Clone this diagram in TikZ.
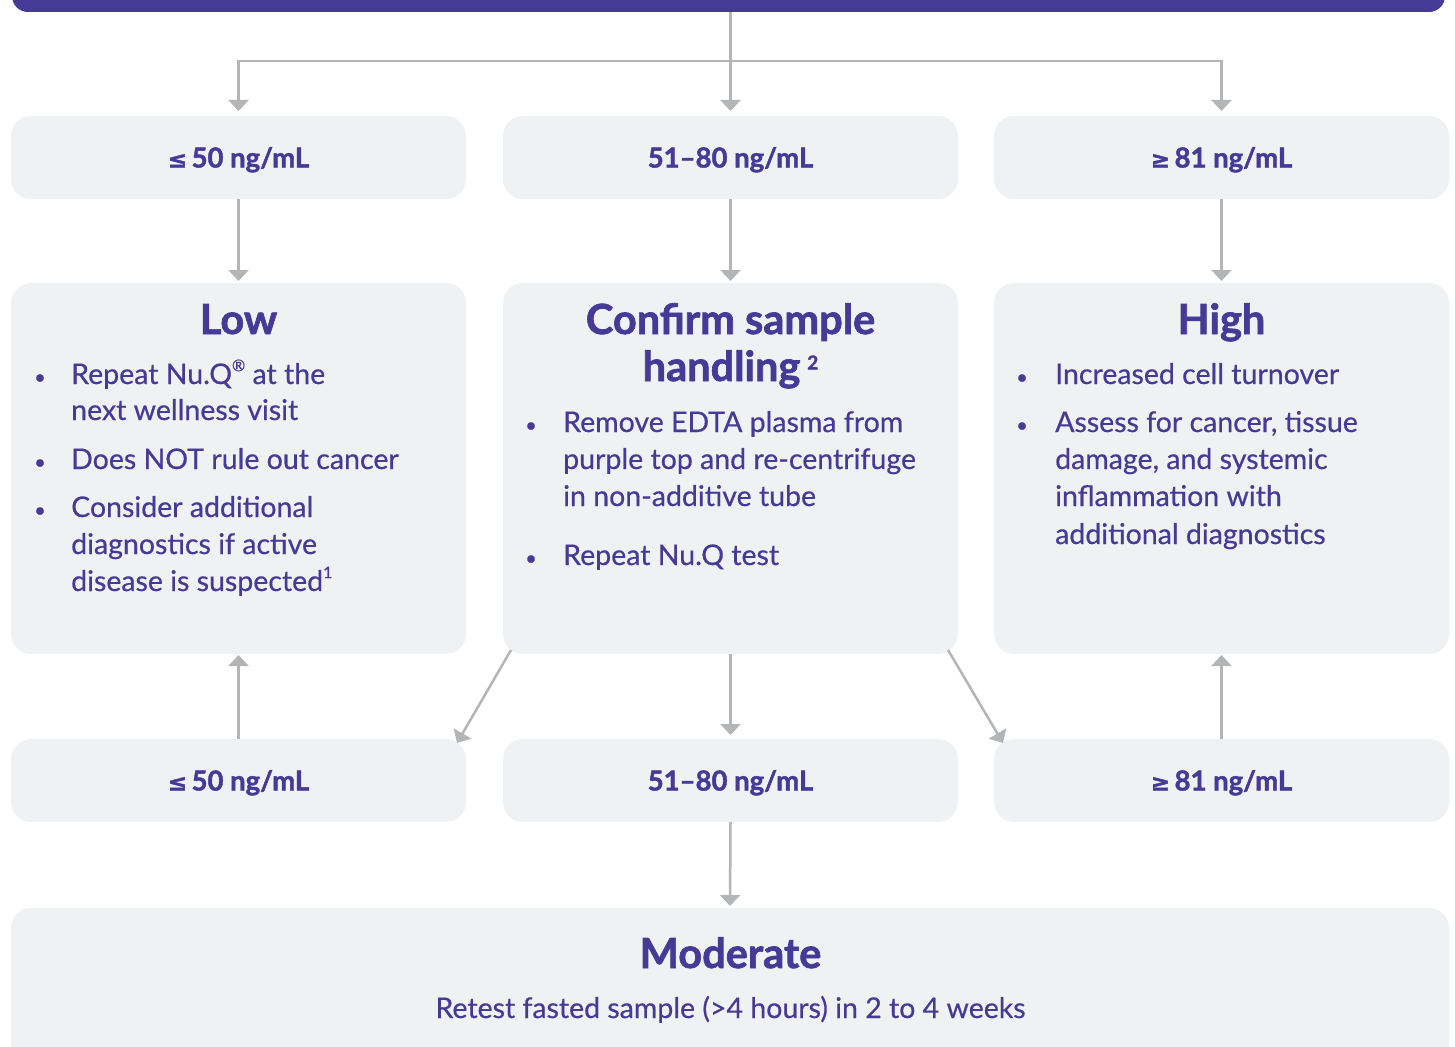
\documentclass[tikz,border=0pt]{standalone}
\usepackage{fontspec}
\setmainfont{Lato}[UprightFeatures={FakeBold=0.5}]
\newfontfamily\heavyf{Lato}[BoldFeatures={FakeBold=1.6}]
\newfontfamily\symf{DejaVu Sans}[BoldFeatures={FakeBold=1.6}]
\usetikzlibrary{arrows.meta}
\definecolor{pur}{HTML}{463A97}
\definecolor{boxg}{HTML}{F0F1F3}
\definecolor{lin}{HTML}{B4B5B7}
\newcommand{\supr}[1]{\raisebox{0.45em}{\fontsize{16}{16}\selectfont #1}}
\newcommand{\suprb}[1]{\raisebox{0.28em}{\fontsize{19}{19}\selectfont\bfseries #1}}
\newcommand{\lesym}{{\symf\bfseries\fontsize{23}{23}\selectfont ≤}}
\newcommand{\gesym}{{\symf\bfseries\fontsize{23}{23}\selectfont ≥}}
\begin{document}
\begin{tikzpicture}[x=1pt,y=-1pt,
 box/.style={fill=boxg, rounded corners=20pt, inner sep=0pt, outer sep=0pt, minimum width=455pt, text=pur},
 rowbox/.style={box, minimum height=83pt, text height=20pt, text depth=0pt, font=\fontsize{27.5}{30}\selectfont\heavyf\bfseries},
 bigbox/.style={box, minimum height=371pt},
 conn/.style={draw=lin, line width=2.5pt, -{Triangle[width=20pt,length=11pt]}},
 ttl/.style={text=pur, font=\fontsize{41.5}{46}\selectfont\heavyf\bfseries, anchor=base, inner sep=0pt},
 body/.style={text=pur, font=\fontsize{28.5}{37}\selectfont, anchor=base west, inner sep=0pt},
 bul/.style={text=pur, font=\fontsize{20}{24}\selectfont, anchor=base, inner sep=0pt}]
\useasboundingbox (0,0) rectangle (1455,1046);
\clip (0,0) rectangle (1455,1046);

% top bar
\node[fill=pur, rounded corners=16pt, inner sep=0pt, outer sep=0pt, minimum width=1433pt, minimum height=40pt, anchor=south] (bar) at (728.5,12) {};

% row 1
\node[rowbox] (l1) at (238.5,157.5) {\lesym\,50 ng/mL};
\node[rowbox] (m1) at (730.5,157.5) {51–80 ng/mL};
\node[rowbox] (r1) at (1221.5,157.5) {\gesym\,81 ng/mL};

% row 2
\node[bigbox] (l2) at (238.5,468.5) {};
\node[bigbox] (m2) at (730.5,468.5) {};
\node[bigbox] (r2) at (1221.5,468.5) {};

% row 3
\node[rowbox] (l3) at (238.5,780.5) {\lesym\,50 ng/mL};
\node[rowbox] (m3) at (730.5,780.5) {51–80 ng/mL};
\node[rowbox] (r3) at (1221.5,780.5) {\gesym\,81 ng/mL};

% moderate
\node[box, minimum width=1438pt, minimum height=162pt] (mod) at (730,989) {};

% left column text
\node[ttl] (lt) at (238.5,334) {Low};
\node[bul] (lb1) at (40,384) {•};
\node[body] (la1) at (71,384) {Repeat Nu.Q\supr{®} at the};
\node[body] (la2) at (71,420) {next wellness visit};
\node[bul] (lb2) at (40,469) {•};
\node[body] (lb) at (71,469) {Does NOT rule out cancer};
\node[bul] (lb3) at (40,517) {•};
\node[body] (lc1) at (71,517) {Consider additional};
\node[body] (lc2) at (71,554) {diagnostics if active};
\node[body] (lc3) at (71,591) {disease is suspected\supr{1}};

% middle column text
\node[ttl] (mt1) at (730.5,334) {Confirm sample};
\node[ttl] (mt2) at (730.5,381) {handling\,\suprb{2}};
\node[bul] (mb1) at (531,432) {•};
\node[body] (ma1) at (563,432) {Remove EDTA plasma from};
\node[body] (ma2) at (563,469) {purple top and re-centrifuge};
\node[body] (ma3) at (563,506) {in non-additive tube};
\node[bul] (mb2) at (531,565) {•};
\node[body] (mb) at (563,565) {Repeat Nu.Q test};

% right column text
\node[ttl] (rt) at (1221.5,334) {High};
\node[bul] (rb1) at (1022,384) {•};
\node[body] (ra) at (1055,384) {Increased cell turnover};
\node[bul] (rb2) at (1022,432) {•};
\node[body] (rb1t) at (1055,432) {Assess for cancer, tissue};
\node[body] (rb2t) at (1055,469) {damage, and systemic};
\node[body] (rb3t) at (1055,506) {inflammation with};
\node[body] (rb4t) at (1055,544) {additional diagnostics};

% moderate text
\node[ttl] (modt) at (730.5,968) {Moderate};
\node[text=pur, font=\fontsize{28.5}{30}\selectfont, anchor=base, inner sep=0pt] (mods) at (730.5,1018) {Retest fasted sample (>4 hours) in 2 to 4 weeks};

% connectors
\coordinate (j) at (730.5,61);
\draw[conn, shorten >=5pt] (bar.south -| m1.north) -- (m1.north);
\draw[conn, shorten >=5pt] (j) -| (l1.north);
\draw[conn, shorten >=5pt] (j) -| (r1.north);
\draw[conn, shorten >=2pt] (l1.south) -- (l2.north);
\draw[conn, shorten >=2pt] (m1.south) -- (m2.north);
\draw[conn, shorten >=2pt] (r1.south) -- (r2.north);
\draw[conn, shorten >=1pt] (l3.north) -- (l2.south);
\draw[conn, shorten >=1pt] (r3.north) -- (r2.south);
\draw[conn, shorten >=4pt] (m2.south) -- (m3.north);
\draw[conn, shorten >=2pt] (m3.south) -- (mod.north);
\draw[conn] ([shift={(8,-4)}]m2.south west) -- ([shift={(-9,4)}]l3.north east);
\draw[conn] ([shift={(-10,-4)}]m2.south east) -- ([shift={(9,4)}]r3.north west);
\end{tikzpicture}
\end{document}
